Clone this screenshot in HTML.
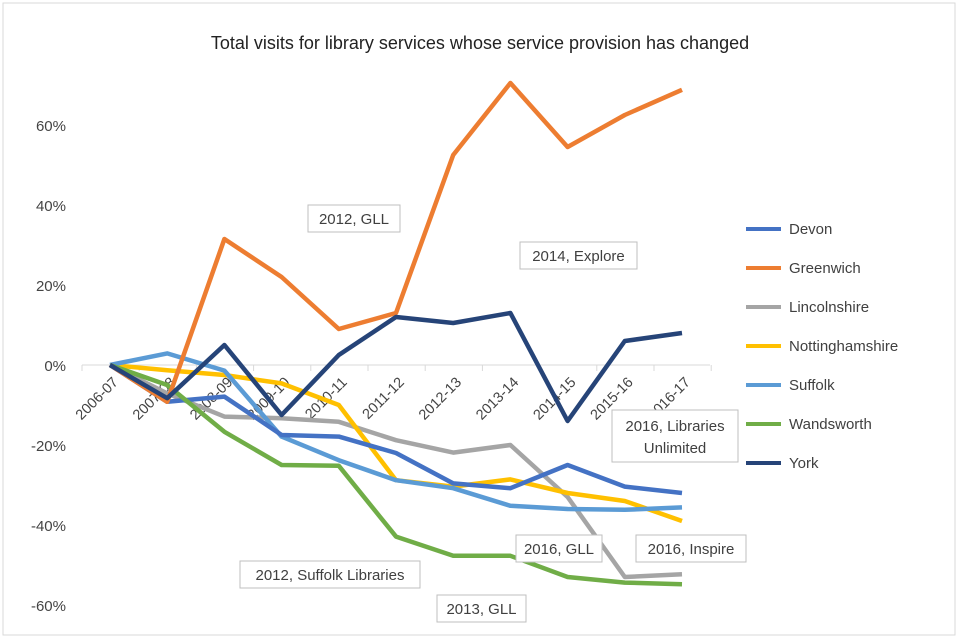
<!DOCTYPE html>
<html><head><meta charset="utf-8"><style>
html,body{margin:0;background:#fff;font-family:"Liberation Sans",sans-serif;width:960px;height:640px;overflow:hidden;}
svg text{font-family:"Liberation Sans",sans-serif;}
</style></head><body>
<svg id="c" width="960" height="640" viewBox="0 0 960 640">
<rect x="3" y="3" width="952" height="632" fill="#fff" stroke="#d9d9d9"/>
<text x="480" y="49" text-anchor="middle" font-size="18" fill="#222">Total visits for library services whose service provision has changed</text>
<g id="axes"></g><g id="lines"></g><g id="ann"></g><g id="legend"></g>
</svg>
<script>
const categories=["2006-07","2007-08","2008-09","2009-10","2010-11","2011-12","2012-13","2013-14","2014-15","2015-16","2016-17"];
const seriesNames=["Devon","Greenwich","Lincolnshire","Nottinghamshire","Suffolk","Wandsworth","York"];
const seriesColors=["#4472c4","#ed7d31","#a5a5a5","#ffc000","#5b9bd5","#70ad47","#264478"];
const devon=[0,-9.2,-7.9,-17.5,-17.9,-22,-29.6,-30.8,-25,-30.4,-32];
const greenwich=[0,-9.2,31.5,22,9,13,52.5,70.5,54.5,62.5,68.8];
const lincolnshire=[0,-7.1,-12.9,-13.3,-14.2,-18.8,-21.9,-20,-33,-53,-52.3];
const nottinghamshire=[0,-1.3,-2.5,-4.6,-10,-28.8,-30.4,-28.6,-32,-34,-39];
const suffolk=[0,2.9,-1.4,-17.9,-23.8,-28.8,-30.8,-35.2,-36,-36.2,-35.6];
const wandsworth=[0,-5,-16.7,-25,-25.2,-42.9,-47.7,-47.7,-53,-54.4,-54.8];
const york=[0,-8.3,5,-12.5,2.5,12,10.5,13,-14,6,8];
const yTicks=[-60,-40,-20,0,20,40,60];
const NS="http://www.w3.org/2000/svg";
function xS(i){return 110+i*57.2;}
function yS(v){return 365-v*4;}
function mk(t,a,p){const e=document.createElementNS(NS,t);for(const k in a)e.setAttribute(k,a[k]);p.appendChild(e);return e;}
const axes=document.getElementById('axes');
yTicks.forEach(v=>{const t=mk('text',{x:66,y:yS(v)+6,'text-anchor':'end','font-size':15,fill:'#444'},axes);


t.textContent=v+'%';});
const ax=mk('line',{x1:82,x2:710,y1:365,y2:365,stroke:'#d9d9d9','stroke-width':1},axes);


for(let i=0;i<=11;i++){const tk=mk('line',{x1:82+i*57.2,x2:82+i*57.2,y1:365,y2:371,stroke:'#d9d9d9'},axes);

}
categories.forEach((c,i)=>{const x=xS(i)+9,y=383;const t=mk('text',{x:x,y:y,'text-anchor':'end','font-size':14.5,fill:'#444',transform:`rotate(-45 ${x} ${y})`},axes);


t.textContent=c;});
const data=[devon,greenwich,lincolnshire,nottinghamshire,suffolk,wandsworth,york];
const lines=document.getElementById('lines');
const order=[2,3,4,0,5,1,6];
order.forEach(s=>{const pts=data[s].map((v,i)=>xS(i)+','+yS(v)).join(' ');
const p=mk('polyline',{points:pts,fill:'none',stroke:seriesColors[s],'stroke-width':4.5,'stroke-linejoin':'round'},lines);

});
const anns=[["2012, GLL",308,205,92,27],["2014, Explore",520,242,117,27],["2016, GLL",516,535,86,27],["2016, Inspire",636,535,110,27],["2012, Suffolk Libraries",240,561,180,27],["2013, GLL",437,595,89,27]];
const ann=document.getElementById('ann');
anns.forEach(a=>{const g=mk('g',{},ann);


mk('rect',{x:a[1],y:a[2],width:a[3],height:a[4],fill:'#fff',stroke:'#bfbfbf'},g);
const t=mk('text',{x:a[1]+a[3]/2,y:a[2]+19,'text-anchor':'middle','font-size':15,fill:'#404040'},g);t.textContent=a[0];});
{const g=mk('g',{},ann);


mk('rect',{x:612,y:410,width:126,height:52,fill:'#fff',stroke:'#bfbfbf'},g);
const t1=mk('text',{x:675,y:431,'text-anchor':'middle','font-size':15,fill:'#404040'},g);t1.textContent='2016, Libraries';
const t2=mk('text',{x:675,y:453,'text-anchor':'middle','font-size':15,fill:'#404040'},g);t2.textContent='Unlimited';}
const leg=document.getElementById('legend');
seriesNames.forEach((n,i)=>{const y=229+i*39;const g=mk('g',{},leg);


mk('line',{x1:746,x2:781,y1:y,y2:y,stroke:seriesColors[i],'stroke-width':4},g);
const t=mk('text',{x:789,y:y+5,'font-size':15,fill:'#404040'},g);t.textContent=n;});
</script>
</body></html>
